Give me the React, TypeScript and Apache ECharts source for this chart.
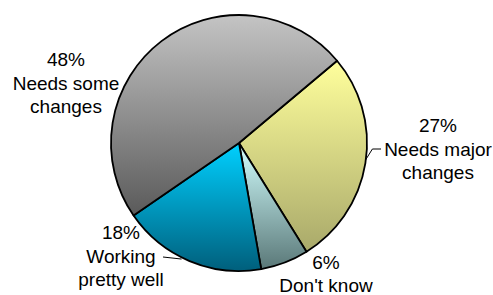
import React, { useEffect, useRef } from "react";
import * as echarts from "echarts";

// ---- data ----
const categories = ["Needs major changes", "Don't know", "Working pretty well", "Needs some changes"];
const values = [27, 6, 18, 48];
const labelTexts = ["27%\nNeeds major\nchanges", "6%\nDon't know", "18%\nWorking\npretty well", "48%\nNeeds some\nchanges"];

// ---- styles / layout ----
const gradients: [string, string][] = [
  ["#ffff9c", "#a9a96a"],
  ["#d2ffff", "#5a7878"],
  ["#00d0ff", "#005f7c"],
  ["#c4c4c4", "#5a5a5a"],
];
// label block centres (layout only)
const labelCenters: [number, number][] = [
  [438, 149],
  [326, 274],
  [121, 256],
  [66, 83],
];
const showLine = [true, false, true, false];

export default function App() {
  const ref = useRef<HTMLDivElement>(null);
  useEffect(() => {
    document.body.style.margin = "0";
    const chart = echarts.init(ref.current!, undefined, { renderer: "svg" });
    const data = categories.map((name, i) => ({
      name,
      value: values[i],
      itemStyle: {
        color: {
          type: "linear",
          x: 0,
          y: 0,
          x2: 0,
          y2: 1,
          colorStops: [
            { offset: 0, color: gradients[i][0] },
            { offset: 1, color: gradients[i][1] },
          ],
        },
      },
      label: { formatter: labelTexts[i] },
      labelLine: { show: showLine[i] },
    }));
    chart.setOption({
      animation: false,
      backgroundColor: "#ffffff",
      series: [
        {
          type: "pie",
          center: [239, 143],
          radius: 128,
          startAngle: 40,
          clockwise: true,
          avoidLabelOverlap: false,
          data,
          itemStyle: { borderColor: "#000", borderWidth: 1.8 },
          emphasis: { disabled: true },
          label: {
            show: true,
            position: "outside",
            color: "#000",
            fontFamily: "Liberation Sans, Arial, sans-serif",
            fontSize: 19,
            lineHeight: 23.5,
          },
          labelLine: {
            show: true,
            length: 8,
            length2: 8,
            lineStyle: { color: "#000", width: 1 },
          },
          labelLayout: (params: any) => {
            const i = params.dataIndex;
            const [cx, cy] = labelCenters[i];
            const out: any = { x: cx, y: cy, align: "center", verticalAlign: "middle" };
            const pts = params.labelLinePoints;
            if (showLine[i] && pts && pts[0]) {
              const a = pts[0];
              if (i === 0) {
                out.labelLinePoints = [
                  [a[0], a[1] - 3],
                  [a[0] + 7, cy],
                  [cx - 57, cy],
                ];
              } else if (i === 2) {
                out.labelLinePoints = [
                  [a[0] - 8, a[1] - 2],
                  [cx + 42, cy + 1],
                  [cx + 42, cy + 1],
                ];
              }
            }
            return out;
          },
        },
      ],
    });
    return () => chart.dispose();
  }, []);
  return <div ref={ref} style={{ width: 493, height: 295 }} />;
}
